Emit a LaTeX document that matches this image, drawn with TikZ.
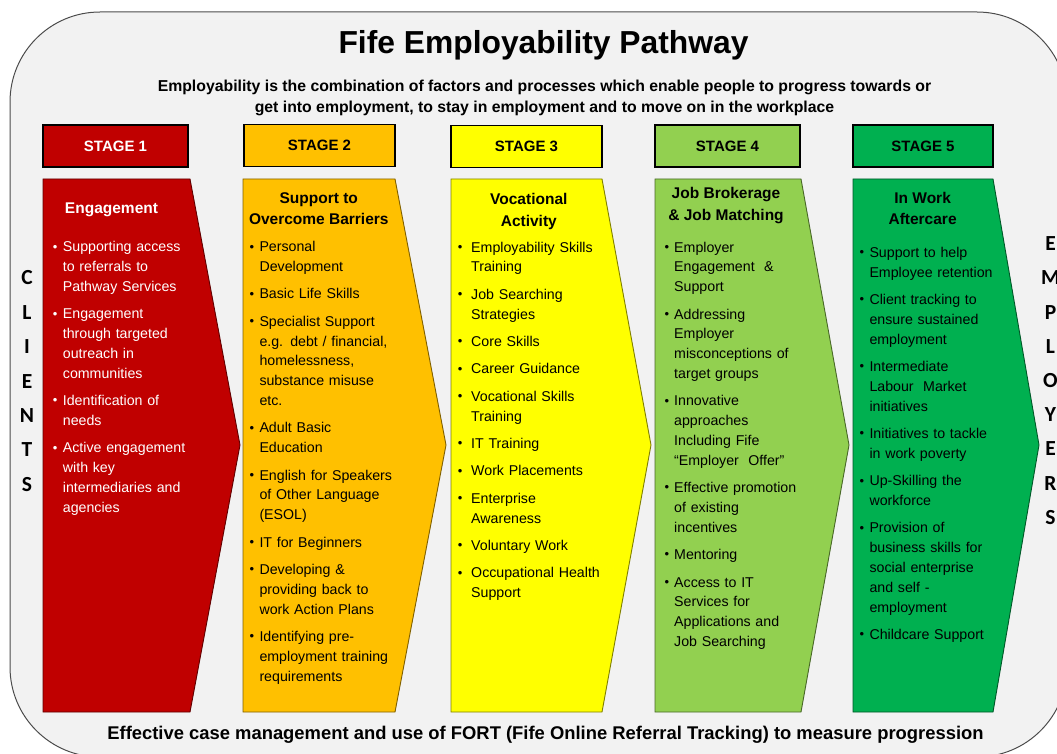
\documentclass[tikz,border=0pt]{standalone}
\usepackage{fontspec}
\setmainfont{Liberation Sans}
\newfontfamily\sidefont{Carlito}
\usetikzlibrary{positioning}
\usepackage{xcolor}

\definecolor{panelgray}{HTML}{F2F2F2}
\definecolor{stagered}{HTML}{C00000}
\definecolor{stageorange}{HTML}{FFC000}
\definecolor{stageyellow}{HTML}{FFFF00}
\definecolor{stagelime}{HTML}{92D050}
\definecolor{stagegreen}{HTML}{00B050}

\newlength\bulletgap
\newcommand\pb{\leavevmode\llap{\raisebox{0.7pt}{\fontsize{13}{13}\selectfont\textbullet}\hspace{\bulletgap}}}

\tikzset{
    stagebox/.style={draw=black, line width=1.4pt, minimum height=42, inner sep=0,
        font=\fontsize{15}{18}\selectfont\bfseries},
    pathway/.style={fill=#1, draw=#1!50!black, line width=0.9pt},
    header/.style={align=center, inner sep=0, font=\fontsize{15.5}{21.5}\selectfont\bfseries},
    itemlist/.style={anchor=base west, inner sep=0, text width=190, align=left,
        font=\fontsize{14.2}{19.8}\selectfont, execute at begin node={\setlength\bulletgap{#1}}},
    sideletter/.style={inner sep=0, font=\sidefont\fontsize{21.5}{21.5}\selectfont\bfseries}
}

\begin{document}
\begin{tikzpicture}[x=1pt, y=-1pt]
    \useasboundingbox (0,0) rectangle (1057,754);
    \draw[fill=panelgray, draw=black!70, line width=1pt, rounded corners=90] (10,12) rectangle (1067,757);

    \node[font=\fontsize{31.8}{38}\selectfont\bfseries] (title) at (543.5,45.5) {Fife Employability Pathway};
    \node[align=center, inner sep=0, font=\fontsize{15.8}{21}\selectfont\bfseries] (intro) at (544.5,98)
        {Employability is the combination of factors and processes which enable people to progress towards or\\
         get into employment, to stay in employment and to move on in the workplace};

    \node[stagebox, fill=stagered, text=white, minimum width=145] (stage1) at (115.5,146) {STAGE 1};
    \node[stagebox, fill=stageorange, minimum width=151] (stage2) at (319.5,145.5) {STAGE 2};
    \node[stagebox, fill=stageyellow, minimum width=151] (stage3) at (526.5,146.3) {STAGE 3};
    \node[stagebox, fill=stagelime, minimum width=145] (stage4) at (727.5,146) {STAGE 4};
    \node[stagebox, fill=stagegreen, minimum width=140] (stage5) at (923,146) {STAGE 5};

    \foreach \l/\r/\t/\c in {43/190/240/stagered, 243/395/446/stageorange, 451/602/651/stageyellow,
            655/801/849/stagelime, 853/993/1039/stagegreen}
        \draw[pathway=\c] (\l,179) -- (\r,179) -- (\t,445) -- (\r,712) -- (\l,712) -- cycle;

    \node[header, text=white] (head1) at (111.5,210) {Engagement};
    \node[header] (head2) at (318.8,208.5) {Support to\\Overcome Barriers};
    \node[header] (head3) at (528.8,211.5) {Vocational\\Activity};
    \node[header] (head4) at (726,205.5) {Job Brokerage\\\& Job Matching};
    \node[header] (head5) at (922.6,208.5) {In Work\\Aftercare};

    \node[itemlist=5.4pt, text=white] (list1) at (62.7,251.7)
        {\pb Supporting access\\to referrals to\\Pathway Services\\[7.6pt]
         \pb Engagement\\through targeted\\outreach in\\communities\\[7.6pt]
         \pb Identification of\\needs\\[7.6pt]
         \pb Active engagement\\with key\\intermediaries and\\agencies};
    \node[itemlist=5.3pt] (list2) at (259.3,251.7)
        {\pb Personal\\Development\\[7.6pt]
         \pb Basic Life Skills\\[7.6pt]
         \pb Specialist Support\\e.g. debt / financial,\\homelessness,\\substance misuse\\etc.\\[7.6pt]
         \pb Adult Basic\\Education\\[7.6pt]
         \pb English for Speakers\\of Other Language\\(ESOL)\\[7.6pt]
         \pb IT for Beginners\\[7.6pt]
         \pb Developing \&\\providing back to\\work Action Plans\\[7.6pt]
         \pb Identifying pre-\\employment training\\requirements};
    \node[itemlist=8.7pt] (list3) at (471,252)
        {\pb Employability Skills\\Training\\[7.6pt]
         \pb Job Searching\\Strategies\\[7.6pt]
         \pb Core Skills\\[7.6pt]
         \pb Career Guidance\\[7.6pt]
         \pb Vocational Skills\\Training\\[7.6pt]
         \pb IT Training\\[7.6pt]
         \pb Work Placements\\[7.6pt]
         \pb Enterprise\\Awareness\\[7.6pt]
         \pb Voluntary Work\\[7.6pt]
         \pb Occupational Health\\Support};
    \node[itemlist=5pt] (list4) at (674,252)
        {\pb Employer\\Engagement\ \ \&\\Support\\[7.6pt]
         \pb Addressing\\Employer\\misconceptions of\\target groups\\[7.6pt]
         \pb Innovative\\approaches\\Including Fife\\“Employer\ \ Offer”\\[7.6pt]
         \pb Effective promotion\\of existing\\incentives\\[7.6pt]
         \pb Mentoring\\[7.6pt]
         \pb Access to IT\\Services for\\Applications and\\Job Searching};
    \node[itemlist=5.3pt] (list5) at (869.3,257.3)
        {\pb Support to help\\Employee retention\\[7.6pt]
         \pb Client tracking to\\ensure sustained\\employment\\[7.6pt]
         \pb Intermediate\\Labour\ \ Market\\initiatives\\[7.6pt]
         \pb Initiatives to tackle\\in work poverty\\[7.6pt]
         \pb Up-Skilling the\\workforce\\[7.6pt]
         \pb Provision of\\business skills for\\social enterprise\\and self -\\employment\\[7.6pt]
         \pb Childcare Support};

    \foreach \ch [count=\i] in {C,L,I,E,N,T,S}
        \node[sideletter] (client\i) at (27,243.6+34.4*\i) {\ch};
    \foreach \ch [count=\i] in {E,M,P,L,O,Y,E,R,S}
        \node[sideletter] (employer\i) at (1050.5,209.5+34.2*\i) {\ch};

    \node[font=\fontsize{18.4}{22}\selectfont\bfseries] (footer) at (545.5,735)
        {Effective case management and use of FORT (Fife Online Referral Tracking) to measure progression};
\end{tikzpicture}
\end{document}
